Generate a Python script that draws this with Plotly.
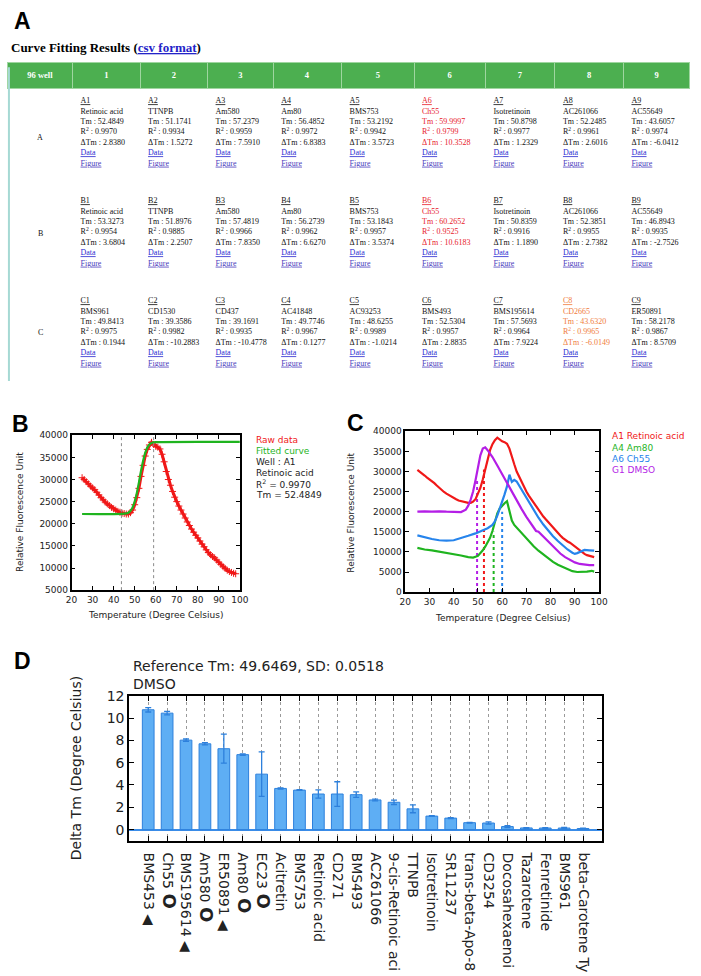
import plotly.graph_objects as go

W, H = 701, 976


def fx(x):
    return x / W


def fy(y):
    return 1 - y / H


# ---------------- Panel A : curve fitting table ----------------
table_header = ["96 well", "1", "2", "3", "4", "5", "6", "7", "8", "9"]
plate_rows = ["A", "B", "C"]
names_A = ["Retinoic acid", "TTNPB", "Am580", "Am80", "BMS753", "Ch55", "Isotretinoin", "AC261066", "AC55649"]
names_B = ["Retinoic acid", "TTNPB", "Am580", "Am80", "BMS753", "Ch55", "Isotretinoin", "AC261066", "AC55649"]
names_C = ["BMS961", "CD1530", "CD437", "AC41848", "AC93253", "BMS493", "BMS195614", "CD2665", "ER50891"]
tm_A = [52.4849, 51.1741, 57.2379, 56.4852, 53.2192, 59.9997, 50.8798, 52.2485, 43.6057]
tm_B = [53.3273, 51.8976, 57.4819, 56.2739, 53.1843, 60.2652, 50.8359, 52.3851, 46.8943]
tm_C = [49.8413, 39.3586, 39.1691, 49.7746, 48.6255, 52.5304, 57.5693, 43.6320, 58.2178]
r2_A = [0.9970, 0.9934, 0.9959, 0.9972, 0.9942, 0.9799, 0.9977, 0.9961, 0.9974]
r2_B = [0.9954, 0.9885, 0.9966, 0.9962, 0.9957, 0.9525, 0.9916, 0.9955, 0.9935]
r2_C = [0.9975, 0.9982, 0.9935, 0.9967, 0.9989, 0.9957, 0.9964, 0.9965, 0.9867]
dtm_A = [2.8380, 1.5272, 7.5910, 6.8383, 3.5723, 10.3528, 1.2329, 2.6016, -6.0412]
dtm_B = [3.6804, 2.2507, 7.8350, 6.6270, 3.5374, 10.6183, 1.1890, 2.7382, -2.7526]
dtm_C = [0.1944, -10.2883, -10.4778, 0.1277, -1.0214, 2.8835, 7.9224, -6.0149, 8.5709]
flagged_wells = {"A6": "#e8212b", "B6": "#e8212b", "C8": "#f07c3c"}

TXT = "#111111"
LINK1 = "#2b2bd0"
LINK2 = "#4a3cbc"


def cell_text(well, name, tm, r2, dtm):
    c = flagged_wells.get(well, TXT)
    lines = [
        f"<span style='color:{c};text-decoration:underline'>{well}</span>",
        f"<span style='color:{c}'>{name}</span>",
        f"<span style='color:{c}'>Tm : {tm:.4f}</span>",
        f"<span style='color:{c}'>R<sup>2</sup> : {r2:.4f}</span>",
        f"<span style='color:{c}'>\u0394Tm : {dtm:.4f}</span>",
        f"<span style='color:{LINK1};text-decoration:underline'>Data</span>",
        f"<span style='color:{LINK2};text-decoration:underline'>Figure</span>",
    ]
    return "<br>".join(lines)


row_data = {
    "A": (names_A, tm_A, r2_A, dtm_A),
    "B": (names_B, tm_B, r2_B, dtm_B),
    "C": (names_C, tm_C, r2_C, dtm_C),
}
table_cols = [["" for r in plate_rows]]
for j in range(9):
    col = []
    for r in plate_rows:
        nm, tm, r2, dt = row_data[r]
        col.append(cell_text(f"{r}{j + 1}", nm[j], tm[j], r2[j], dt[j]))
    table_cols.append(col)

# ---------------- Panel B : single well fit ----------------
b_temp = [25, 26, 27, 28, 29, 30, 31, 32, 33, 34, 35, 36, 37, 38, 39, 40, 41, 42, 43, 44,
          45, 46, 47, 48, 49, 50, 51, 52, 53, 54, 55, 56, 57, 58, 59, 60, 61, 62, 63, 64,
          65, 66, 67, 68, 69, 70, 71, 72, 73, 74, 75, 76, 77, 78, 79, 80, 81, 82, 83, 84,
          85, 86, 87, 88, 89, 90, 91, 92, 93, 94, 95, 96, 97, 98]
b_raw = [30400, 30000, 29500, 29000, 28500, 28100, 27700, 27100, 26500, 25900,
         25400, 24900, 24500, 24100, 23700, 23400, 23100, 22800, 22600, 22400,
         22300, 22200, 22200, 22500, 23100, 24300, 25900, 28000, 30700, 33200,
         35300, 36800, 37800, 38400, 37900, 37500, 37300, 36900, 35700, 34000,
         31800, 30000, 28700, 27300, 26000, 25000, 24000, 23100, 22200, 21300,
         20400, 19600, 18800, 18100, 17400, 16800, 16100, 15400, 14800, 14100,
         13500, 13000, 12600, 12300, 11800, 11300, 10800, 10300, 9900, 9500,
         9200, 9000, 8800, 8700]
b_fit_temp = [25, 44, 46, 47, 48, 49, 50, 51, 52, 53, 54, 55, 56, 57, 58, 59, 60, 100]
b_fit = [22200, 22250, 22350, 22500, 22900, 23700, 25000, 26900, 29300, 31900,
         34200, 36000, 37200, 37900, 38250, 38400, 38450, 38500]
b_guides = [43.7, 59.0]
b_info = ["Raw data", "Fitted curve", "Well : A1", "Retinoic acid",
          "R<sup>2</sup> = 0.9970", "Tm = 52.4849"]

# ---------------- Panel C : four wells ----------------
c_green_t = [25, 28, 31, 34, 37, 40, 43, 46, 48, 50, 51, 52, 53, 54, 55, 56, 57, 58, 59, 60, 61,
             62, 63, 64, 65, 67, 69, 71, 73, 75, 77, 79, 81, 83, 85, 87, 89, 91, 93, 95, 97, 98]
c_green_v = [11000, 10600, 10400, 10100, 9800, 9500, 9100, 8700, 8600, 9000, 9600, 10400, 11300,
             12300, 13500, 15200, 17300, 19600, 20800, 21500, 22100, 22600, 20500, 17800, 16700,
             15400, 14000, 12600, 11400, 10300, 9300, 8400, 7500, 6800, 6200, 5700, 5200, 5000,
             5000, 5100, 5300, 5100]
c_blue_t = [25, 28, 31, 34, 37, 40, 43, 46, 49, 52, 54, 56, 57, 58, 59, 60, 61, 62, 63, 64, 65,
            66, 67, 69, 71, 73, 75, 77, 79, 81, 83, 85, 87, 89, 90, 91, 92, 94, 96, 98]
c_blue_v = [14100, 13600, 13200, 12900, 12800, 12900, 13400, 14000, 14600, 15300, 15900, 16700,
            17600, 19000, 20600, 22300, 24300, 26300, 29200, 27400, 27900, 27500, 26500, 24300,
            22200, 20300, 18500, 16800, 15300, 13900, 12700, 11600, 10600, 9800, 9500, 9700,
            10000, 10500, 10400, 10300]
c_purple_t = [25, 28, 31, 34, 37, 40, 43, 45, 46, 47, 48, 49, 50, 51, 52, 53, 54, 55, 56, 58, 60,
              62, 64, 66, 68, 70, 72, 74, 75, 76, 78, 80, 82, 84, 86, 88, 90, 92, 94, 96, 98]
c_purple_v = [20000, 20100, 20000, 20100, 20000, 19900, 19900, 20500, 21500, 23000, 25000, 27800,
              31000, 34000, 35700, 36000, 35300, 34500, 33600, 31500, 29300, 27000, 24900, 22800,
              20700, 18700, 16900, 15200, 15000, 14400, 13000, 11800, 10600, 9600, 8700, 8000,
              7400, 7000, 6800, 6700, 6700]
c_labels = ["A1 Retinoic acid", "A4 Am80", "A6 Ch55", "G1 DMSO"]
c_tm = [52.48, 56.49, 60.0, 49.65]
c_tm_top = [30500, 15000, 20000, 28000]

# ---------------- Panel D : delta Tm ranking ----------------
d_compounds = ["BMS453", "Ch55", "BMS195614", "Am580", "ER50891", "Am80", "EC23", "Acitretin",
               "BMS753", "Retinoic acid", "CD271", "BMS493", "AC261066", "9-cis-Retinoic aci",
               "TTNPB", "Isotretinoin", "SR11237", "trans-beta-Apo-8", "CD3254", "Docosahexaenoi",
               "Tazarotene", "Fenretinide", "BMS961", "beta-Carotene Ty"]
d_marks = ["tri", "circ", "tri", "circ", "tri", "circ", "circ", "", "", "", "", "", "", "",
           "", "", "", "", "", "", "", "", "", ""]
d_delta = [10.74, 10.44, 8.02, 7.69, 7.25, 6.72, 4.97, 3.69, 3.54, 3.19, 3.19, 3.13, 2.66,
           2.45, 1.86, 1.21, 1.03, 0.62, 0.59, 0.27, 0.15, 0.14, 0.14, 0.10]
d_err = [0.2, 0.15, 0.1, 0.1, 1.3, 0.07, 2.0, 0.05, 0.03, 0.37, 1.1, 0.25, 0.08, 0.2, 0.35,
         0.03, 0.05, 0.03, 0.1, 0.08, 0.03, 0.04, 0.05, 0.02]
d_title = ["Reference Tm: 49.6469, SD: 0.0518", "DMSO"]

RED = "#f01818"
GREEN = "#1fb41f"
BLUE = "#2684ec"
PURPLE = "#b41ee6"
SANS = "DejaVu Sans"
SERIF = "Liberation Serif"

mark_glyph = {"tri": " \u25C0", "circ": " <span style='font-size:18px'><b>O</b></span>", "": ""}
d_ticktext = [n + mark_glyph[m] for n, m in zip(d_compounds, d_marks)]

fig = go.Figure()

# table
fig.add_trace(go.Table(
    domain=dict(x=[fx(2), fx(699)], y=[fy(379), fy(55)]),
    columnwidth=[66, 69, 69, 67, 70, 74, 73, 71, 70, 68],
    header=dict(values=[f"<b>{h}</b>" for h in table_header],
                fill_color="#4caf50", line=dict(color="#9fd6a0", width=1),
                align="center", height=20,
                font=dict(family=SERIF, size=8.5, color="white")),
    cells=dict(values=table_cols, fill_color="white", line=dict(color="white", width=1),
               align=["center"] + ["left"] * 9, height=100,
               font=dict(family=SERIF, size=8, color=TXT)),
))

# panel B
fig.add_trace(go.Scatter(x=b_temp, y=b_raw, mode="lines+markers", xaxis="x", yaxis="y",
                         line=dict(color=RED, width=3),
                         marker=dict(symbol="cross-thin", size=5, line=dict(color=RED, width=1)),
                         showlegend=False))
fig.add_trace(go.Scatter(x=b_fit_temp, y=b_fit, mode="lines", xaxis="x", yaxis="y",
                         line=dict(color=GREEN, width=2.2, shape="spline"), showlegend=False))
for g in b_guides:
    fig.add_trace(go.Scatter(x=[g, g], y=[5000, 40000], mode="lines", xaxis="x", yaxis="y",
                             line=dict(color="#8a8a8a", width=1, dash="3px,3px"), showlegend=False))

# panel C
c_series = [(b_temp, b_raw, RED), (c_green_t, c_green_v, GREEN),
            (c_blue_t, c_blue_v, BLUE), (c_purple_t, c_purple_v, PURPLE)]
for (t, v, col), tm, top in zip(c_series, c_tm, c_tm_top):
    fig.add_trace(go.Scatter(x=[tm, tm], y=[0, top], mode="lines", xaxis="x2", yaxis="y2",
                             line=dict(color=col, width=2, dash="dot"), showlegend=False))
for t, v, col in c_series:
    fig.add_trace(go.Scatter(x=t, y=v, mode="lines", xaxis="x2", yaxis="y2",
                             line=dict(color=col, width=2.2), showlegend=False))

# panel D
fig.add_trace(go.Bar(x=d_compounds, y=d_delta, xaxis="x3", yaxis="y3", width=0.62,
                     marker=dict(color="#5eaef4", line=dict(color="#2d80dc", width=1)),
                     error_y=dict(type="data", array=d_err, color="#2d80dc", thickness=1.3, width=3),
                     showlegend=False))


def frame_axis(**kw):
    base = dict(showline=True, linecolor="black", linewidth=1.5, mirror="allticks",
                ticks="inside", ticklen=4, tickwidth=1, tickcolor="black",
                showgrid=False, zeroline=False, tickformat="d",
                tickfont=dict(family=SANS, size=9, color="#222"))
    base.update(kw)
    return base


fig.update_layout(
    width=W, height=H, margin=dict(l=0, r=0, t=0, b=0),
    paper_bgcolor="white", plot_bgcolor="white", showlegend=False,
    xaxis=frame_axis(domain=[fx(67), fx(239)], range=[20, 100], dtick=10, anchor="y"),
    yaxis=frame_axis(domain=[fy(590), fy(433)], range=[5000, 40000], dtick=5000, anchor="x"),
    xaxis2=frame_axis(domain=[fx(408), fx(606)], range=[20, 100], dtick=10, anchor="y2"),
    yaxis2=frame_axis(domain=[fy(592), fy(429)], range=[0, 40000], dtick=5000, anchor="x2"),
    xaxis3=frame_axis(domain=[fx(126), fx(609)], range=[-1, 24], anchor="y3", type="category",
                      linewidth=2, ticklen=5, tickangle=90, tickformat=None,
                      tickvals=d_compounds, ticktext=d_ticktext, ticklabelstandoff=7,
                      showgrid=True, gridcolor="#9a9a9a", griddash="3px,3px", gridwidth=1,
                      tickfont=dict(family=SANS, size=14, color="#222")),
    yaxis3=frame_axis(domain=[fy(844), fy(697)], range=[-1, 12], dtick=2, anchor="x3",
                      linewidth=2, ticklen=5,
                      zeroline=True, zerolinecolor="#3a8ce8", zerolinewidth=1.5,
                      tickfont=dict(family=SANS, size=14, color="#222")),
)

ann = []


def add_text(x, y, text, size, color="#222", family=SANS, xanchor="left", angle=0, yanchor="middle"):
    ann.append(dict(x=fx(x), y=fy(y), xref="paper", yref="paper", text=text, showarrow=False,
                    xanchor=xanchor, yanchor=yanchor, textangle=angle,
                    font=dict(family=family, size=size, color=color)))


# panel letters
for letter, (x, y) in zip(["A", "B", "C", "D"], [(6, 13), (4, 422), (346, 421), (6, 662)]):
    add_text(x, y, f"<b>{letter}</b>", 23, color="black", family="Liberation Sans")

add_text(3, 40, "<b>Curve Fitting Results (<span style='color:#2323c8;text-decoration:underline'>"
         "csv format</span>)</b>", 13, color="black", family=SERIF)

# table row labels (first column)
for r, y in zip(plate_rows, [131, 229, 329]):
    add_text(35, y, r, 8, color=TXT, family=SERIF, xanchor="center")

# table left border
shapes = [dict(type="line", xref="paper", yref="paper", x0=fx(3), x1=fx(3), y0=fy(60), y1=fy(378),
               line=dict(color="#a6d9d4", width=2))]

# panel B labels
add_text(14, 511, "Relative Fluorescence Unit", 9, xanchor="center", angle=-90)
add_text(153, 615, "Temperature (Degree Celsius)", 9, xanchor="center")
b_info_colors = [RED, GREEN, "#222", "#222", "#222", "#222"]
for i, (t, c) in enumerate(zip(b_info, b_info_colors)):
    add_text(253, 438 + i * 11.2, t, 9, color=c)

# panel C labels
add_text(353, 511, "Relative Fluorescence Unit", 9, xanchor="center", angle=-90)
add_text(507, 618, "Temperature (Degree Celsius)", 9, xanchor="center")
for i, (t, c) in enumerate(zip(c_labels, [RED, GREEN, BLUE, PURPLE])):
    add_text(617, 434 + i * 11.5, t, 9, color=c)

# panel D labels
add_text(128, 667, d_title[0], 14)
add_text(128, 685, d_title[1], 14)
add_text(71, 770, "Delta Tm (Degree Celsius)", 14, xanchor="center", angle=-90)

fig.update_layout(annotations=ann, shapes=shapes)
fig.write_html("out.html", config={"displayModeBar": False},
               post_script="document.body.style.margin='0px';")
